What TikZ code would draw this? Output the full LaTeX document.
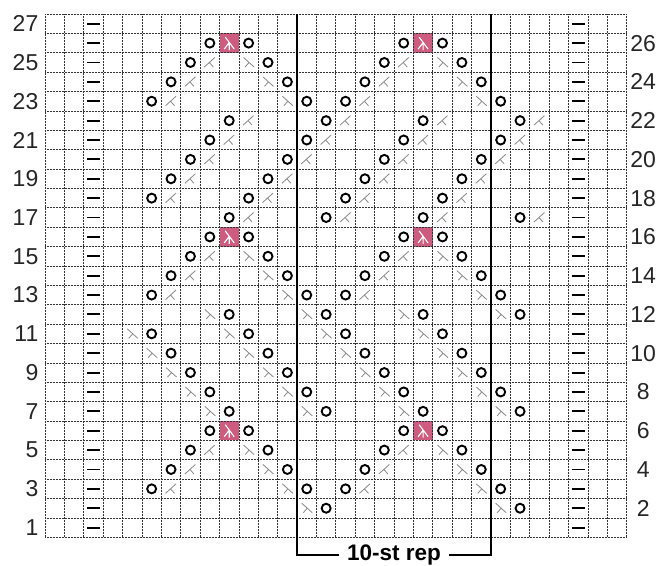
\documentclass[tikz,border=0pt]{standalone}
\usepackage{fontspec}
\setmainfont{Liberation Sans}
\usetikzlibrary{calc}
\definecolor{rose}{RGB}{205,92,128}
\definecolor{decgray}{RGB}{140,140,140}
\tikzset{
  gridline/.style={draw=black!80,line width=0.75pt,dash pattern=on 0.9pt off 0.6pt},
  repline/.style={draw=black,line width=1.8pt},
  rownum/.style={font=\fontsize{23}{23}\selectfont,text=black!85,inner sep=0pt},
  replabel/.style={font=\fontsize{22.5}{22.5}\selectfont\bfseries,fill=white,inner xsep=8pt,inner ysep=0pt},
  yo/.pic={\draw[line width=1.9pt] (0,0) circle[radius=4.5pt];},
  ktog/.pic={\draw[decgray,line width=0.85pt] (-5.5pt,-4.5pt) -- (5pt,5pt) (-0.5pt,0pt) -- (3.5pt,-4.5pt);},
  sskdec/.pic={\draw[decgray,line width=0.85pt] (-5pt,5pt) -- (5.5pt,-4.5pt) (0.5pt,0pt) -- (-3.5pt,-4.5pt);},
  purl/.pic={\draw[line width=1.9pt] (-6.5pt,0) -- (6.5pt,0);},
  cdd/.pic={\fill[rose] (-0.5,-0.5) rectangle (0.5,0.5);
    \draw[white,line width=1.1pt] (-4pt,6pt) -- (5pt,-6pt) (0pt,0.5pt) -- (-5pt,-6pt) (0pt,0.5pt) -- (0pt,-7pt);}
}
\begin{document}
\begin{tikzpicture}[x=19.39pt,y=19.38pt]
  \useasboundingbox ([xshift=-45pt,yshift=-27.7pt]0,0) rectangle ++(663pt,565pt);

  % central double decreases (pink cells)
  \foreach \c/\r in {10/6,20/6,10/16,20/16,10/26,20/26}
    \pic at (\c-0.5,\r-0.5) {cdd};

  % grid
  \foreach \c in {0,...,30}
    \draw[gridline] (\c,0) -- (\c,27);
  \foreach \r in {0,...,27}
    \draw[gridline] (0,\r) -- (30,\r);

  % purl columns
  \foreach \r in {1,...,27} {
    \pic at (2.5,\r-0.5) {purl};
    \pic at (27.5,\r-0.5) {purl};
  }

  % diamond tops, rows 3-6, 13-16, 23-26
  \foreach \b in {0,10,20} {
    \foreach \c/\r in {6/3,14/3,16/3,24/3,7/4,13/4,17/4,23/4,
                       8/5,12/5,18/5,22/5,9/6,11/6,19/6,21/6}
      \pic at (\c-0.5,\r+\b-0.5) {yo};
    \foreach \c/\r in {7/3,17/3,8/4,18/4,9/5,19/5}
      \pic at (\c-0.5,\r+\b-0.5) {ktog};
    \foreach \c/\r in {13/3,23/3,12/4,22/4,11/5,21/5}
      \pic at (\c-0.5,\r+\b-0.5) {sskdec};
  }

  % row 2
  \foreach \c in {15,25}
    \pic at (\c-0.5,1.5) {yo};
  \foreach \c in {14,24}
    \pic at (\c-0.5,1.5) {sskdec};

  % rows 7-12
  \foreach \s/\r in {10/7,9/8,8/9,7/10,6/11,10/12}
    \foreach \k in {0,5,10,15} {
      \pic at (\s+\k-0.5,\r-0.5) {yo};
      \pic at (\s+\k-1.5,\r-0.5) {sskdec};
    }

  % rows 17-22
  \foreach \s/\r in {10/17,6/18,7/19,8/20,9/21,10/22}
    \foreach \k in {0,5,10,15} {
      \pic at (\s+\k-0.5,\r-0.5) {yo};
      \pic at (\s+\k+0.5,\r-0.5) {ktog};
    }

  % row numbers
  \foreach \r in {1,3,...,27}
    \node[rownum,anchor=east] (l\r) at ([xshift=-6.5pt]0,\r-0.5) {\r};
  \foreach \r in {2,4,...,26}
    \node[rownum] (r\r) at ([xshift=16.5pt]30,\r-0.5) {\r};

  % repeat bracket
  \coordinate (repLtop) at (13,27);
  \coordinate (repRtop) at (23,27);
  \coordinate (repLbot) at ([yshift=-17.7pt]13,0);
  \coordinate (repRbot) at ([yshift=-17.7pt]23,0);
  \node[replabel] (rep) at ($(repLbot)!0.5!(repRbot)$) {10-st rep};
  \draw[repline] (repLtop) -- (repLbot) -- (rep.west);
  \draw[repline] (rep.east) -- (repRbot) -- (repRtop);
\end{tikzpicture}
\end{document}
